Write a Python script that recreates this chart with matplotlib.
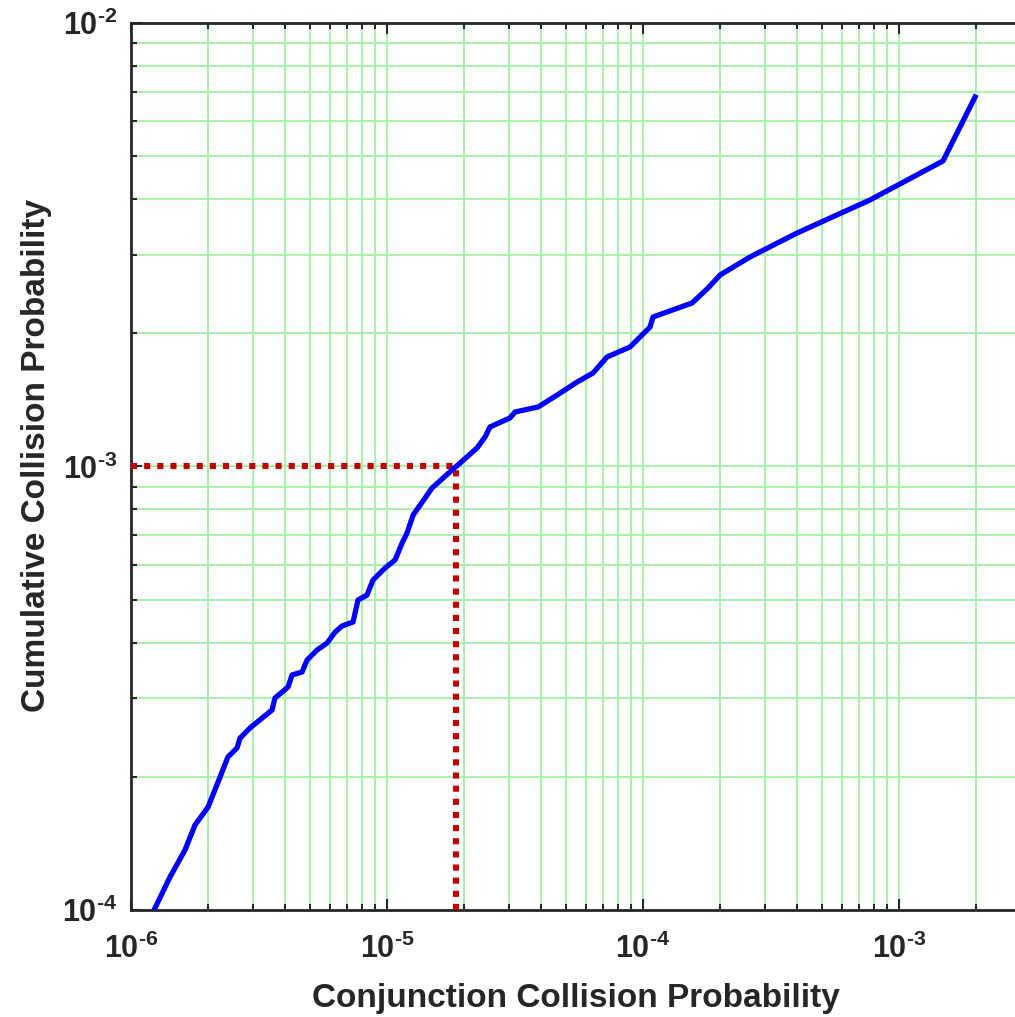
#!/usr/bin/env python3
"""Cumulative vs conjunction collision probability (log-log)."""

import numpy as np
import matplotlib

matplotlib.use("Agg")
import matplotlib.pyplot as plt
from matplotlib.ticker import FuncFormatter, LogLocator, NullFormatter

# values
conj_pc = [
    1.23e-6, 1.42e-6, 1.625e-6, 1.778e-6, 2.0e-6, 2.227e-6, 2.39e-6, 2.594e-6,
    2.666e-6, 2.916e-6, 3.555e-6, 3.65e-6, 4.105e-6, 4.256e-6, 4.656e-6, 4.87e-6,
    5.33e-6, 5.832e-6, 6.27e-6, 6.673e-6, 7.366e-6, 7.70e-6, 8.35e-6, 8.817e-6,
    9.82e-6, 1.075e-5, 1.145e-5, 1.197e-5, 1.264e-5, 1.499e-5, 1.794e-5, 1.929e-5,
    2.246e-5, 2.415e-5, 2.525e-5, 3.023e-5, 3.162e-5, 3.89e-5, 4.614e-5, 5.523e-5,
    6.377e-5, 7.234e-5, 8.897e-5, 1.065e-4, 1.094e-4, 1.554e-4, 1.794e-4, 2.0e-4,
    2.618e-4, 3.996e-4, 7.70e-4, 1.485e-3, 1.981e-3,
]
cum_pc = [
    1.0e-4, 1.187e-4, 1.366e-4, 1.555e-4, 1.707e-4, 1.995e-4, 2.213e-4, 2.319e-4,
    2.442e-4, 2.573e-4, 2.825e-4, 3.006e-4, 3.183e-4, 3.388e-4, 3.441e-4, 3.661e-4,
    3.856e-4, 4.0e-4, 4.234e-4, 4.369e-4, 4.46e-4, 5.0e-4, 5.13e-4, 5.547e-4,
    5.903e-4, 6.154e-4, 6.722e-4, 7.08e-4, 7.77e-4, 8.944e-4, 9.82e-4, 1.018e-3,
    1.101e-3, 1.166e-3, 1.228e-3, 1.287e-3, 1.327e-3, 1.362e-3, 1.449e-3, 1.55e-3,
    1.625e-3, 1.766e-3, 1.86e-3, 2.063e-3, 2.173e-3, 2.337e-3, 2.526e-3, 2.703e-3,
    2.968e-3, 3.361e-3, 3.99e-3, 4.886e-3, 6.81e-3,
]

# threshold marker: cumulative 1e-3 reached at this conjunction Pc
threshold_cum = 1e-3
threshold_pc = 1.86e-5

x_limits = (1e-6, 1e-2)
y_limits = (1e-4, 1e-2)
x_label_max = 1e-3  # the canvas is cropped before the 1e-2 tick

GRID_GREEN = "#a8f2a8"
AXIS_DARK = "#262626"

plt.rcParams["font.family"] = ["Liberation Sans", "DejaVu Sans"]
plt.rcParams["font.weight"] = "bold"
plt.rcParams["mathtext.fontset"] = "custom"
plt.rcParams["mathtext.rm"] = "Liberation Sans:bold"
plt.rcParams["mathtext.bf"] = "Liberation Sans:bold"
plt.rcParams["mathtext.it"] = "Liberation Sans:bold"


def pow10_label(value, _pos):
    # short hyphen in the exponent, like the original figure
    return "$10^{\u2010%d}$" % abs(int(round(np.log10(value))))


def x_pow10_label(value, pos):
    if value > x_label_max * 1.01:
        return ""
    return pow10_label(value, pos)


def main():
    fig = plt.figure(figsize=(10.15, 10.17), dpi=100)
    # axes run off the right edge of the canvas like in the reference
    ax = fig.add_axes([0.1291, 0.1052, 1.0089, 0.8722])
    ax.set_xscale("log")
    ax.set_yscale("log")
    ax.set_xlim(*x_limits)
    ax.set_ylim(*y_limits)

    ax.grid(True, which="both", color=GRID_GREEN, linewidth=1.4)
    ax.set_axisbelow(True)

    dotted = dict(color="#c00000", linewidth=4.4, linestyle=(0, (1, 1.15)),
                  dash_capstyle="butt", zorder=3)
    ax.plot([x_limits[0], threshold_pc], [threshold_cum, threshold_cum], **dotted)
    ax.plot([threshold_pc, threshold_pc], [y_limits[0], threshold_cum], **dotted)
    ax.plot(conj_pc, cum_pc, color="#0000ff", linewidth=3.8, zorder=4,
            solid_joinstyle="round")

    for axis in (ax.xaxis, ax.yaxis):
        axis.set_major_locator(LogLocator(base=10, numticks=20))
        axis.set_minor_locator(LogLocator(base=10, subs=np.arange(2, 10), numticks=20))
        axis.set_minor_formatter(NullFormatter())
    ax.xaxis.set_major_formatter(FuncFormatter(x_pow10_label))
    ax.yaxis.set_major_formatter(FuncFormatter(pow10_label))

    ax.tick_params(which="both", direction="in", top=True, right=True,
                   color=AXIS_DARK, width=1.5, labelcolor=AXIS_DARK)
    ax.tick_params(which="major", length=8, labelsize=22)
    ax.tick_params(axis="x", which="major", pad=17)
    ax.tick_params(axis="y", which="major", pad=10)
    ax.tick_params(which="minor", length=4)
    for spine in ax.spines.values():
        spine.set_color(AXIS_DARK)
        spine.set_linewidth(2.0)

    ax.set_xlabel("Conjunction Collision Probability", fontsize=24,
                  fontweight="bold", color=AXIS_DARK, va="baseline")
    ax.set_ylabel("Cumulative Collision Probability", fontsize=24,
                  fontweight="bold", color=AXIS_DARK, va="baseline")
    # the axes box is wider than the canvas, so place labels by hand
    ax.xaxis.set_label_coords(0.4346, -0.1094)
    ax.yaxis.set_label_coords(-0.084, 0.513)

    fig.savefig("out.png", dpi=100)
    plt.close(fig)


if __name__ == "__main__":
    main()
